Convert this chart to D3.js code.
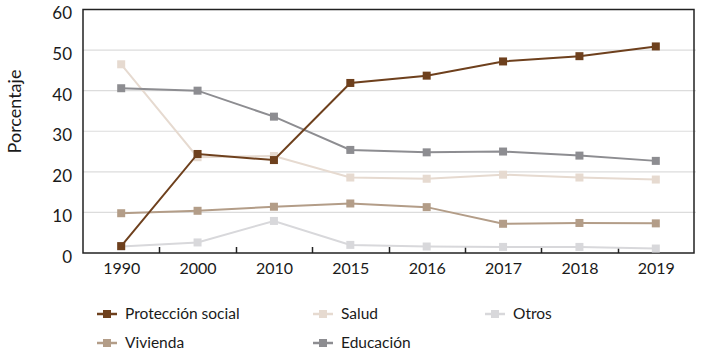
<!DOCTYPE html>
<html><head><meta charset="utf-8">
<script src="https://cdn.jsdelivr.net/npm/d3@7"></script>
<style>body{margin:0;background:#fff;}svg{display:block;font-family:"Lato",sans-serif;}</style>
</head><body><svg id="c" width="706" height="360"></svg>
<script>
const years = ["1990","2000","2010","2015","2016","2017","2018","2019"];
const proteccion = [1.7,24.4,22.9,41.9,43.7,47.2,48.5,50.9];
const salud = [46.5,23.6,23.9,18.6,18.3,19.3,18.6,18.1];
const educacion = [40.6,40.0,33.6,25.4,24.8,25.0,24.0,22.7];
const vivienda = [9.8,10.4,11.4,12.2,11.3,7.2,7.4,7.3];
const otros = [1.6,2.6,7.9,2.0,1.6,1.5,1.5,1.1];
const yTicks = [0,10,20,30,40,50,60];

const series = [
  {name:"Otros", values:otros, color:"#d8d8db"},
  {name:"Vivienda", values:vivienda, color:"#b39d88"},
  {name:"Salud", values:salud, color:"#e6dad0"},
  {name:"Educación", values:educacion, color:"#8d8d91"},
  {name:"Protección social", values:proteccion, color:"#6e401d"}
];
const legendOrder = [
  {s:"Protección social", col:0, row:0},
  {s:"Salud", col:1, row:0},
  {s:"Otros", col:2, row:0},
  {s:"Vivienda", col:0, row:1},
  {s:"Educación", col:1, row:1}
];

const FONT = "Lato, sans-serif";
const svg = d3.select("#c");
const L=83, R=694, T=9.5, B=253;
const x = d3.scalePoint().domain(years).range([L,R]).padding(0.5);
const xb = d3.scaleBand().domain(years).range([L,R]);
const y = d3.scaleLinear().domain([0,60]).range([B,T]);

svg.append("g").selectAll("line").data(yTicks.filter(d=>d>0&&d<60)).join("line")
  .attr("x1",L).attr("x2",R+2).attr("y1",d=>y(d)).attr("y2",d=>y(d))
  .attr("stroke","#dcdcdc").attr("stroke-width",1.2);

const ya = svg.append("g").attr("transform",`translate(${L},0)`)
  .call(d3.axisLeft(y).tickValues(yTicks).tickSize(0).tickPadding(11));
ya.select(".domain").remove();
ya.selectAll("text").attr("font-size",17).attr("fill","#1a1a1a").attr("font-family",FONT).attr("dy","0.55em");

const xa = svg.append("g").attr("transform",`translate(0,${B})`)
  .call(d3.axisBottom(x).tickSize(0).tickPadding(10));
xa.select(".domain").remove();
xa.selectAll("text").attr("font-size",16).attr("fill","#1a1a1a").attr("font-family",FONT);
svg.append("g").selectAll("line").data(years.slice(1)).join("line")
  .attr("x1",d=>Math.round(xb(d))+0.5).attr("x2",d=>Math.round(xb(d))+0.5)
  .attr("y1",B).attr("y2",B-6).attr("stroke","#222").attr("stroke-width",1.5);

svg.append("rect").attr("x",L).attr("y",T).attr("width",R-L).attr("height",B-T)
  .attr("fill","none").attr("stroke","#222").attr("stroke-width",1.5);

svg.append("text").attr("transform",`translate(15,${(70+153)/2}) rotate(-90)`)
  .attr("text-anchor","middle").attr("dy","0.35em").attr("font-size",18).attr("fill","#1a1a1a").text("Porcentaje");

const line = d3.line().x((d,i)=>x(years[i])).y(d=>y(d));
series.forEach(s=>{
  const g = svg.append("g");
  g.append("path").attr("d",line(s.values)).attr("fill","none").attr("stroke",s.color).attr("stroke-width",2);
  g.selectAll("rect").data(s.values).join("rect")
    .attr("x",(d,i)=>x(years[i])-4).attr("y",d=>y(d)-4).attr("width",8).attr("height",8)
    .attr("fill",s.color);
});

const colX=[97,313,485], rowY=[314,343];
const byName = Object.fromEntries(series.map(s=>[s.name,s]));
legendOrder.forEach(l=>{
  const s = byName[l.s];
  const lx=colX[l.col], ly=rowY[l.row];
  const g = svg.append("g");
  g.append("line").attr("x1",lx).attr("x2",lx+20).attr("y1",ly).attr("y2",ly).attr("stroke",s.color).attr("stroke-width",2.5);
  g.append("rect").attr("x",lx+6).attr("y",ly-4).attr("width",8).attr("height",8).attr("fill",s.color);
  g.append("text").attr("x",lx+28).attr("y",ly).attr("dy","0.35em").attr("font-size",15.5).attr("fill","#1a1a1a").text(s.name);
});
</script></body></html>
